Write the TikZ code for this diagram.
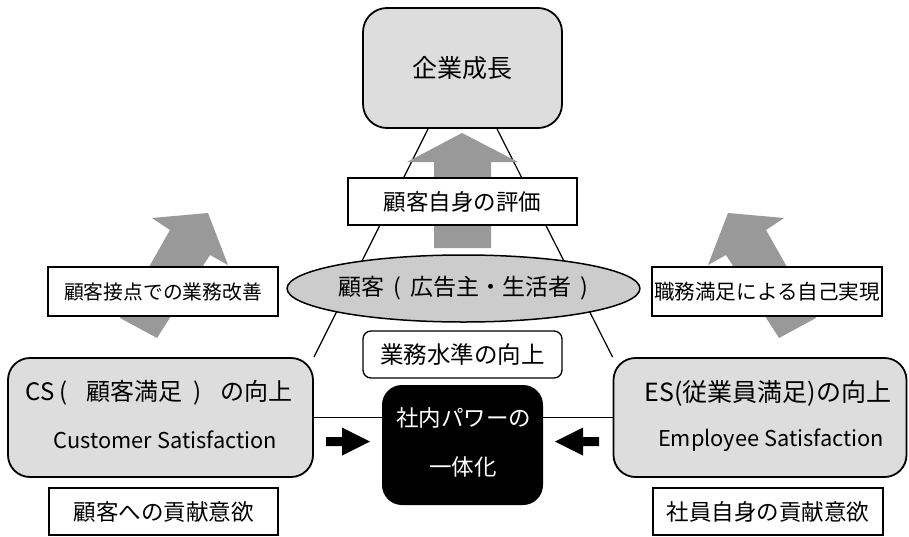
\documentclass[tikz,border=0pt]{standalone}
\usepackage{fontspec}
\setmainfont{Noto Sans CJK JP}
\usetikzlibrary{shapes.geometric}
\pgfdeclarelayer{bg}
\pgfsetlayers{bg,main}
\definecolor{boxgray}{HTML}{DDDDDD}
\definecolor{ellgray}{HTML}{CCCCCC}
\definecolor{arrowgray}{HTML}{999999}
\tikzset{
  bigbox/.style={draw, line width=1.8pt, fill=boxgray, rounded corners=22pt, inner sep=0pt, align=center},
  plainbox/.style={draw, line width=1.3pt, fill=white, inner sep=0pt},
  grayarrow/.style={fill=arrowgray, draw=none},
  blockarrow/.style={fill=black, draw=none},
  linkline/.style={line width=1.2pt},
  txt/.style={inner sep=0pt},
}
\newcommand{\fs}[1]{\fontsize{#1}{#1}\selectfont}
\begin{document}
\begin{tikzpicture}[x=1pt,y=-1pt]
\useasboundingbox (0,0) rectangle (909,536);

% gray arrows
\fill[grayarrow] (462,133) -- (518,162) -- (491,162) -- (491,248) -- (434,248) -- (434,162) -- (407,162) -- cycle;
\fill[grayarrow] (208,213) -- (228,265) -- (210,255) -- (157,338) -- (120,318) -- (170,230) -- (152,218) -- cycle;
\fill[grayarrow] (728,213) -- (708,265) -- (726,255) -- (779,338) -- (816,318) -- (766,230) -- (784,218) -- cycle;

% nodes
\node[bigbox, rounded corners=24pt, minimum width=199pt, minimum height=120pt] (top) at (462.5,68) {\fs{25}企業成長};
\node[plainbox, minimum width=229pt, minimum height=47pt] (eval) at (462.5,201.5) {\fs{22.5}顧客自身の評価};
\node[plainbox, minimum width=230pt, minimum height=49pt] (kaizen) at (163,291.5) {\fs{19.8}顧客接点での業務改善};
\node[plainbox, minimum width=230pt, minimum height=49pt] (jiko) at (767,291.5) {\fs{20.6}職務満足による自己実現};
\node[ellipse, draw, line width=1.5pt, fill=ellgray, inner sep=0pt, minimum width=284pt, minimum height=67pt] (cust) at (463.5,288.5)
  {\fs{23}顧客\hspace{9pt}(\hspace{9pt}広告主・生活者\hspace{9pt})};
\node[plainbox, rounded corners=8pt, minimum width=199pt, minimum height=47pt] (level) at (462.5,354.5) {\fs{23.5}業務水準の向上};

\node[bigbox, minimum width=305pt, minimum height=119pt] (cs) at (160.5,417.5) {};
\node[txt] (cs1) at (159,393) {\fs{24}CS\hspace{5pt}(\hspace{19pt}顧客満足\hspace{11pt})\hspace{19pt}の向上};
\node[txt] (cs2) at (165.5,440) {\fs{21.8}Customer Satisfaction};

\node[bigbox, minimum width=293pt, minimum height=119pt] (es) at (760,417.5) {};
\node[txt] (es1) at (768,393) {\fs{25}ES(従業員満足)の向上};
\node[txt] (es2) at (771,440) {\fs{21.8}Employee Satisfaction};

\node[fill=black, rounded corners=20pt, minimum width=161pt, minimum height=120pt, inner sep=0pt] (power) at (462.5,445) {};
\node[txt, text=white] (pw1) at (463.5,418) {\fs{22.5}社内パワーの};
\node[txt, text=white] (pw2) at (463,467) {\fs{22.5}一体化};

\node[plainbox, minimum width=229pt, minimum height=47pt] (kokyaku) at (163.5,511.5) {\fs{22.5}顧客への貢献意欲};
\node[plainbox, minimum width=230pt, minimum height=47pt] (shain) at (768,511.5) {\fs{22.5}社員自身の貢献意欲};

% block arrows
\fill[blockarrow] (326,437) -- (342,437) -- (342,427.5) -- (370,441.5) -- (342,455.5) -- (342,446) -- (326,446) -- cycle;
\fill[blockarrow] (599,437) -- (583,437) -- (583,427.5) -- (555,441.5) -- (583,455.5) -- (583,446) -- (599,446) -- cycle;

% connectors
\begin{pgfonlayer}{bg}
\draw[linkline] ([xshift=-34.5pt]top.south) -- (cs.north east);
\draw[linkline] ([xshift=34.5pt]top.south) -- (es.north west);
\draw[linkline] (cs.east) -- (es.west);
\end{pgfonlayer}
\end{tikzpicture}
\end{document}
